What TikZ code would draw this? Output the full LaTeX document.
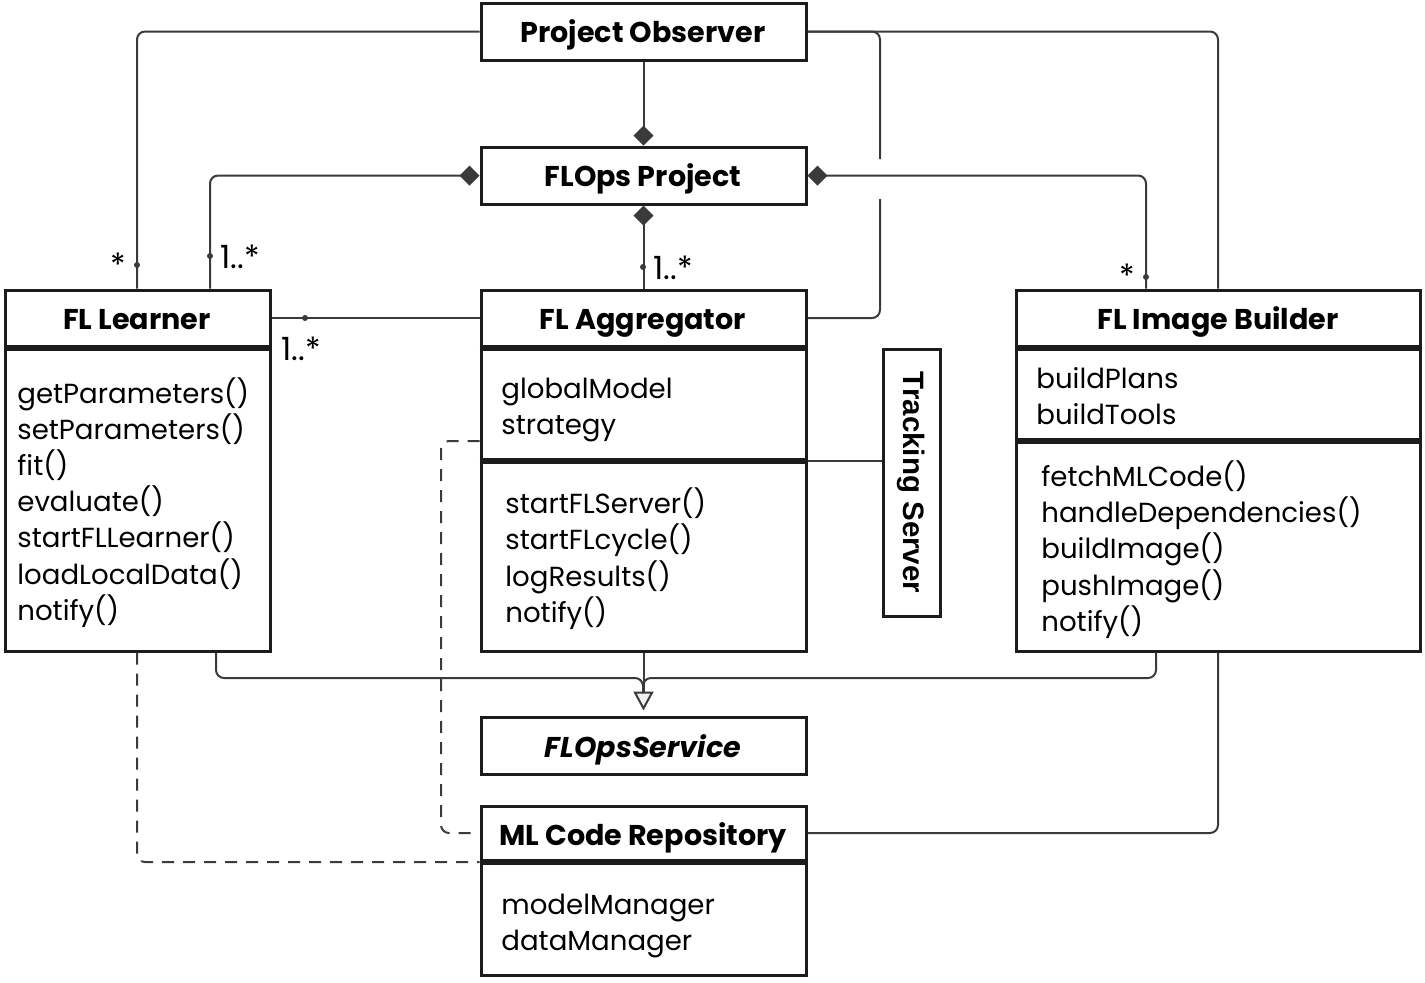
\documentclass[tikz,border=0pt]{standalone}
\usepackage{fontspec}
\setmainfont{Poppins}
\newfontfamily\tsfont{Liberation Sans}
\usetikzlibrary{arrows.meta,fit,calc}
\definecolor{boxc}{HTML}{1C1C1C}
\definecolor{linec}{HTML}{3A3A3A}
\begin{document}
\begin{tikzpicture}[x=0.5pt,y=-0.5pt,
  box/.style={draw=boxc, line width=1.5pt, inner sep=0pt},
  sepline/.style={draw=boxc, line width=3pt},
  conn/.style={draw=linec, line width=1pt, rounded corners=4pt},
  dep/.style={conn, dash pattern=on 6pt off 4.5pt},
  comp/.style={conn, -{Diamond[length=10pt,width=10pt]}},
  gen/.style={conn, -{Triangle[length=9.5pt,width=10pt,fill=gray!12]}, shorten >=2.5pt},
  dot/.style={circle, fill=linec, inner sep=0pt, minimum size=3pt},
  title/.style={font=\fontsize{14.3}{16}\selectfont\bfseries, inner sep=0pt, anchor=base},
  member/.style={font=\fontsize{13.8}{18}\selectfont, inner sep=0pt, anchor=base west},
  mult/.style={font=\fontsize{16}{18}\selectfont, inner sep=0pt, anchor=base west}
]
\useasboundingbox (0,0) rectangle (1425,982);

% boxes
\node[box, fit={(481,3) (806,60)}] (obs) {};
\node[box, fit={(481,147) (806,204)}] (proj) {};
\node[box, fit={(5,290) (270,651)}] (lrn) {};
\node[box, fit={(481,290) (806,651)}] (agg) {};
\node[box, fit={(1016,290) (1420,651)}] (ib) {};
\node[box, fit={(883,349) (940,616)}] (track) {};
\node[box, fit={(481,717) (806,774)}] (svc) {};
\node[box, fit={(481,806) (806,975)}] (repo) {};

% separators
\draw[sepline] (lrn.west |- 0,348) -- (lrn.east |- 0,348);
\draw[sepline] (agg.west |- 0,348) -- (agg.east |- 0,348);
\draw[sepline] (agg.west |- 0,461) -- (agg.east |- 0,461);
\draw[sepline] (ib.west |- 0,348) -- (ib.east |- 0,348);
\draw[sepline] (ib.west |- 0,441) -- (ib.east |- 0,441);
\draw[sepline] (repo.west |- 0,862) -- (repo.east |- 0,862);

% titles
\node[title] (tobs) at (643,42) {Project Observer};
\node[title] (tproj) at (643,186) {FLOps Project};
\node[title] (tlrn) at (137,329) {FL Learner};
\node[title] (tagg) at (643,329) {FL Aggregator};
\node[title] (tib) at (1218,329) {FL Image Builder};
\node[title] (tsvc) at (643,757) {\itshape FLOpsService};
\node[title] (trepo) at (643,845) {ML Code Repository};
\node[font=\tsfont\fontsize{14.75}{16}\selectfont\bfseries, rotate=-90, inner sep=0pt] (ttrack) at (track.center) {Tracking Server};

% members
\foreach \t [count=\i] in {getParameters(),setParameters(),fit(),evaluate(),startFLLearner(),loadLocalData(),notify()}
  \node[member] (lm\i) at (17,{403+36.2*(\i-1)}) {\t};
\foreach \t [count=\i] in {globalModel,strategy}
  \node[member] (aa\i) at (501,{398+36.5*(\i-1)}) {\t};
\foreach \t [count=\i] in {startFLServer(),startFLcycle(),logResults(),notify()}
  \node[member] (am\i) at (505,{513+36.5*(\i-1)}) {\t};
\foreach \t [count=\i] in {buildPlans,buildTools}
  \node[member] (ia\i) at (1036,{388+36.5*(\i-1)}) {\t};
\foreach \t [count=\i] in {fetchMLCode(),handleDependencies(),buildImage(),pushImage(),notify()}
  \node[member] (im\i) at (1041,{486+36.4*(\i-1)}) {\t};
\foreach \t [count=\i] in {modelManager,dataManager}
  \node[member] (ra\i) at (501,{914+36.5*(\i-1)}) {\t};

% associations from Project Observer
\draw[conn] (obs.west) -| (137,0 |- lrn.north);
\node[dot] (d1) at (137,265) {};
\node[mult] (m1) at (110,276) {*};
\draw[conn] (obs.east) -| (ib.north);
\coordinate (gapA) at (880,159);
\coordinate (gapB) at (880,199);
\coordinate (aggH) at (agg.east |- 0,318);
\draw[conn] (obs.east) -| (gapA);
\draw[conn] (gapB) |- (aggH);

% compositions
\draw[comp] (obs.south) -- (proj.north);
\draw[comp] (210,0 |- lrn.north) |- (proj.west);
\node[dot] (d2) at (210,256) {};
\node[mult] (m2) at (220,268) {1..*};
\draw[comp] (agg.north) -- (proj.south);
\node[dot] (d3) at (643,267) {};
\node[mult] (m3) at (653,279) {1..*};
\draw[comp] (1146,0 |- ib.north) |- (proj.east);
\node[dot] (d4) at (1146,277) {};
\node[mult] (m4) at (1119,287) {*};

% learner - aggregator
\coordinate (lrnH) at (lrn.east |- 0,318);
\draw[conn] (lrnH) -- (agg.west |- lrnH);
\node[dot] (d5) at (305,318) {};
\node[mult] (m5) at (281,360) {1..*};

% tracking server
\draw[conn] (track.west |- 0,461) -- (agg.east |- 0,461);

% generalization
\coordinate (genJ) at (643,693);
\draw[gen] (agg.south) -- (svc.north);
\draw[conn] (216,0 |- lrn.south) |- (643,678) -- (genJ);
\draw[conn] (1156,0 |- ib.south) |- (643,678) -- (genJ);

% image builder - repo
\draw[conn] (ib.south) |- (repo.east |- 0,833);

% dependencies
\draw[dep] (137,0 |- lrn.south) |- (repo.west |- 0,862);
\draw[dep] (agg.west |- 0,441) -| (441,600) |- (repo.west |- 0,833);
\end{tikzpicture}
\end{document}
